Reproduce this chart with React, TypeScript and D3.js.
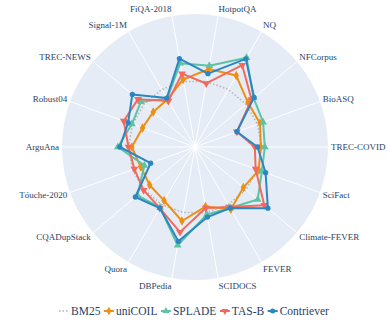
import * as d3 from "d3";

// radar of nDCG@10 relative to BM25 (BM25 = 1)
const categories = [
  "TREC-COVID", "BioASQ", "NFCorpus", "NQ", "HotpotQA", "FiQA-2018",
  "Signal-1M", "TREC-NEWS", "Robust04", "ArguAna", "Tóuche-2020",
  "CQADupStack", "Quora", "DBPedia", "SCIDOCS", "FEVER", "Climate-FEVER", "SciFact",
];
const bm25 = [1, 1, 1, 1, 1, 1, 1, 1, 1, 1, 1, 1, 1, 1, 1, 1, 1, 1];
const unicoil = [0.99, 1.04, 1.04, 1.24, 1.19, 1.03, 0.83, 0.82, 0.84, 0.95, 0.87, 0.89, 0.93, 1.13, 0.91, 1.08, 0.95, 1.02];
const splade = [1.05, 1.09, 1.15, 1.55, 1.24, 1.28, 0.84, 1.06, 1.01, 1.16, 0.81, 1.13, 1.05, 1.5, 1.03, 1.06, 1.23, 1.07];
const tasb = [0.9, 0.67, 1.11, 1.42, 0.97, 1.12, 0.8, 1.12, 1.14, 1.0, 0.97, 1.01, 1.06, 1.3, 0.93, 1.04, 1.36, 0.97];
const contriever = [0.94, 0.67, 1.16, 1.53, 1.12, 1.35, 0.85, 1.23, 1.07, 1.13, 0.71, 1.17, 1.06, 1.44, 1.07, 1.06, 1.43, 1.13];

const seriesNames = ["BM25", "uniCOIL", "SPLADE", "TAS-B", "Contriever"];
const seriesValues = [bm25, unicoil, splade, tasb, contriever];
const colors = ["#b4b4b4", "#ef8f12", "#5cc3a4", "#f3695c", "#2b86c2"];
const symbols = [null, d3.symbolDiamond, d3.symbolTriangle, d3.symbolTriangle, d3.symbolCircle];
const rotations = [0, 0, 0, 180, 0];

const W = 390;
const H = 325;
const cx = 195;
const cy = 147;
const R = 133;
const font = "'Liberation Serif', 'DejaVu Serif', serif";
const textColor = "#2a3f5f";

export default function App() {
  const n = categories.length;
  const rScale = d3.scaleLinear().domain([0, 2]).range([0, R]);
  // d3 radial angle: clockwise from north; first category sits at east, going counterclockwise
  const angle = d3.scaleLinear().domain([0, n]).range([Math.PI / 2, Math.PI / 2 - 2 * Math.PI]);

  const line = d3
    .lineRadial<number>()
    .angle((_, i) => angle(i))
    .radius((d) => rScale(d))
    .curve(d3.curveLinearClosed);

  const pt = (i: number, r: number) => {
    const a = angle(i);
    return [r * Math.sin(a), -r * Math.cos(a)];
  };

  // legend layout from measured text widths
  const ctx = document.createElement("canvas").getContext("2d")!;
  ctx.font = `11.5px ${font}`;
  const legendItems: { x: number; name: string; i: number }[] = [];
  let lx = 59;
  seriesNames.forEach((name, i) => {
    legendItems.push({ x: lx, name, i });
    lx += 12 + ctx.measureText(name).width + 3.5;
  });

  return (
    <svg width={W} height={H} style={{ position: "absolute", left: 0, top: 0, background: "#fff" }}>
      <g transform={`translate(${cx},${cy})`}>
        <circle r={R} fill="#e5ecf6" />
        {categories.map((_, i) => {
          const [x, y] = pt(i, R);
          return <line key={i} x1={0} y1={0} x2={x} y2={y} stroke="#fff" strokeWidth={1} />;
        })}
        {categories.map((c, i) => {
          const [x, y] = pt(i, R + 3);
          const a = angle(i);
          const cosT = Math.sin(a);
          const sinT = Math.cos(a);
          const anchor = cosT > 0.05 ? "start" : cosT < -0.05 ? "end" : "middle";
          return (
            <text
              key={c}
              x={x}
              y={y - sinT * 4.5}
              dy="0.35em"
              textAnchor={anchor}
              fontFamily={font}
              fontSize={9}
              fill={textColor}
            >
              {c}
            </text>
          );
        })}
        {seriesValues.map((vals, s) => (
          <g key={seriesNames[s]}>
            <path
              d={line(vals) || ""}
              fill="none"
              stroke={colors[s]}
              strokeWidth={s === 0 ? 1.5 : 2}
              strokeDasharray={s === 0 ? "1.5,2" : undefined}
              strokeLinejoin="round"
            />
            {symbols[s] &&
              vals.map((v, i) => {
                const [x, y] = pt(i, rScale(v));
                return (
                  <path
                    key={i}
                    d={d3.symbol(symbols[s]!, s === 4 ? 22 : 26)() || ""}
                    transform={`translate(${x},${y}) rotate(${rotations[s]})`}
                    fill={colors[s]}
                  />
                );
              })}
          </g>
        ))}
        <circle r={2} fill="#fff" />
      </g>
      <g transform="translate(0,311)">
        {legendItems.map(({ x, name, i }) => (
          <g key={name} transform={`translate(${x},0)`}>
            <line
              x1={0}
              x2={10}
              y1={0}
              y2={0}
              stroke={colors[i]}
              strokeWidth={i === 0 ? 1.5 : 2}
              strokeDasharray={i === 0 ? "1.5,2" : undefined}
            />
            {symbols[i] && (
              <path
                d={d3.symbol(symbols[i]!, 20)() || ""}
                transform={`translate(5,0) rotate(${rotations[i]})`}
                fill={colors[i]}
              />
            )}
            <text x={12} dy="0.35em" fontFamily={font} fontSize={11.5} fill={textColor}>
              {name}
            </text>
          </g>
        ))}
      </g>
    </svg>
  );
}
